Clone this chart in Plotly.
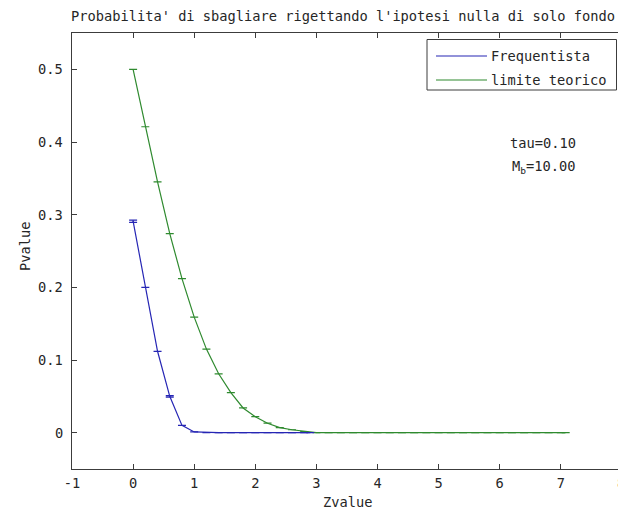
import plotly.graph_objects as go

# ---------------- data ----------------
title_text = "Probabilita' di sbagliare rigettando l'ipotesi nulla di solo fondo"
x_label = "Zvalue"
y_label = "Pvalue"
series_names = ["Frequentista", "limite teorico"]
info_lines = ["tau=0.10", "M<sub>b</sub>=10.00"]

x_tick_vals = [-1, 0, 1, 2, 3, 4, 5, 6, 7]
x_tick_text = ["-1", "0", "1", "2", "3", "4", "5", "6", "7"]
y_tick_vals = [0, 0.1, 0.2, 0.3, 0.4, 0.5]
y_tick_text = ["0", "0.1", "0.2", "0.3", "0.4", "0.5"]

freq_x = [0.0, 0.2, 0.4, 0.6, 0.8, 1.0, 1.2, 1.4, 1.6, 1.8, 2.0, 2.2, 2.4, 2.6, 2.8, 2.9]
freq_y = [0.291, 0.200, 0.112, 0.050, 0.010, 0.001, 0.0, 0.0, 0.0, 0.0, 0.0, 0.0, 0.0, 0.0, 0.0, 0.0]
freq_err = [0.0015, 0.0, 0.0, 0.001, 0.0, 0.0, 0.0, 0.0, 0.0, 0.0, 0.0, 0.0, 0.0, 0.0, 0.0, 0.0]

theo_x = [0.0, 0.2, 0.4, 0.6, 0.8, 1.0, 1.2, 1.4, 1.6, 1.8, 2.0, 2.2, 2.4, 2.6, 2.8,
          3.0, 3.2, 3.4, 3.6, 3.8, 4.0, 4.2, 4.4, 4.6, 4.8, 5.0, 5.2, 5.4, 5.6, 5.8,
          6.0, 6.2, 6.4, 6.6, 6.8, 7.0, 7.08]
theo_y = [0.500, 0.421, 0.345, 0.274, 0.212, 0.159, 0.115, 0.081, 0.055, 0.034, 0.022,
          0.013, 0.007, 0.004, 0.0015, 0.0, 0.0, 0.0, 0.0, 0.0, 0.0, 0.0, 0.0, 0.0, 0.0,
          0.0, 0.0, 0.0, 0.0, 0.0, 0.0, 0.0, 0.0, 0.0, 0.0, 0.0, 0.0]
theo_err = [0.0] * len(theo_y)

colors = ["#2626b4", "#2f8a2f"]

# ---------------- figure ----------------
W, H = 618, 513
L, R, T, B = 72, 0, 33, 44
pw, ph = W - L - R, H - T - B


def px(xp):
    return (xp - L) / pw


def py(yp):
    return (H - B - yp) / ph


FONT = "DejaVu Sans Mono"
FS = 13.7
TXT = "#262626"
AX = "#3c3c3c"

fig = go.Figure()
# draw the theoretical curve first so the frequentist flat tail sits on top
for xs, ys, es, name, c in [(theo_x, theo_y, theo_err, series_names[1], colors[1]),
                            (freq_x, freq_y, freq_err, series_names[0], colors[0])]:
    fig.add_trace(go.Scatter(
        x=xs, y=ys, name=name, mode="lines",
        line=dict(color=c, width=1.2),
        error_y=dict(type="data", array=es, visible=True, color=c, thickness=1.2, width=4),
        showlegend=False,
    ))

fig.update_layout(
    width=W, height=H,
    margin=dict(l=L, r=R, t=T, b=B, pad=0),
    paper_bgcolor="white", plot_bgcolor="white",
    font=dict(family=FONT, size=FS, color=TXT),
    xaxis=dict(range=[-1, -1 + pw / 61.1], tickvals=x_tick_vals, ticktext=x_tick_text,
               ticks="inside", ticklen=5, tickcolor=AX, showline=True, linecolor=AX,
               linewidth=1, mirror="ticks", showgrid=False, zeroline=False,
               tickfont=dict(family=FONT, size=FS, color=TXT), ticklabelstandoff=2),
    yaxis=dict(range=[-0.05, 0.55], tickvals=y_tick_vals, showticklabels=False,
               ticks="inside", ticklen=5, tickcolor=AX, showline=True, linecolor=AX,
               linewidth=1, mirror=False, showgrid=False, zeroline=False),
)

ann = []
# y tick labels, placed on the y axis scale
for v, t in zip(y_tick_vals, y_tick_text):
    ann.append(dict(text=t, xref="paper", yref="y", x=px(65), y=v,
                    xanchor="right", yanchor="middle", showarrow=False,
                    font=dict(family=FONT, size=FS, color=TXT)))
# title
ann.append(dict(text=title_text, xref="paper", yref="paper", x=px(69), y=py(16),
                xanchor="left", yanchor="middle", showarrow=False,
                font=dict(family=FONT, size=FS, color=TXT)))
# axis labels
ann.append(dict(text=x_label, xref="paper", yref="paper", x=px(347), y=py(502),
                xanchor="center", yanchor="middle", showarrow=False,
                font=dict(family=FONT, size=FS, color=TXT)))
ann.append(dict(text=y_label, xref="paper", yref="paper", x=px(25), y=py(247),
                xanchor="center", yanchor="middle", showarrow=False, textangle=-90,
                font=dict(family=FONT, size=FS, color=TXT)))
# partially visible tick label "8"
ann.append(dict(text="8", xref="paper", yref="paper", x=px(621), y=py(483),
                xanchor="center", yanchor="middle", showarrow=False,
                font=dict(family=FONT, size=FS, color=TXT)))
# info text
ann.append(dict(text=info_lines[0], xref="paper", yref="paper", x=px(543), y=py(143),
                xanchor="center", yanchor="middle", showarrow=False,
                font=dict(family=FONT, size=FS, color=TXT)))
ann.append(dict(text=info_lines[1], xref="paper", yref="paper", x=px(543), y=py(167),
                xanchor="center", yanchor="middle", showarrow=False,
                font=dict(family=FONT, size=FS, color=TXT)))

shapes = []
# legend box
shapes.append(dict(type="rect", xref="paper", yref="paper", x0=px(427), x1=px(616.5),
                   y0=py(90), y1=py(39.5), line=dict(color=AX, width=1), fillcolor="white",
                   layer="above"))
for i, (name, c) in enumerate(zip(series_names, colors)):
    yy = 56 + 24 * i
    shapes.append(dict(type="line", xref="paper", yref="paper", x0=px(436), x1=px(487),
                       y0=py(yy), y1=py(yy), line=dict(color=c, width=1.2), layer="above"))
    ann.append(dict(text=name, xref="paper", yref="paper", x=px(489), y=py(yy),
                    xanchor="left", yanchor="middle", showarrow=False,
                    font=dict(family=FONT, size=FS, color=TXT)))

fig.update_layout(annotations=ann, shapes=shapes)
fig.write_html("out.html", config={"displayModeBar": False},
               post_script="document.body.style.margin='0px';document.body.style.overflow='hidden';")
